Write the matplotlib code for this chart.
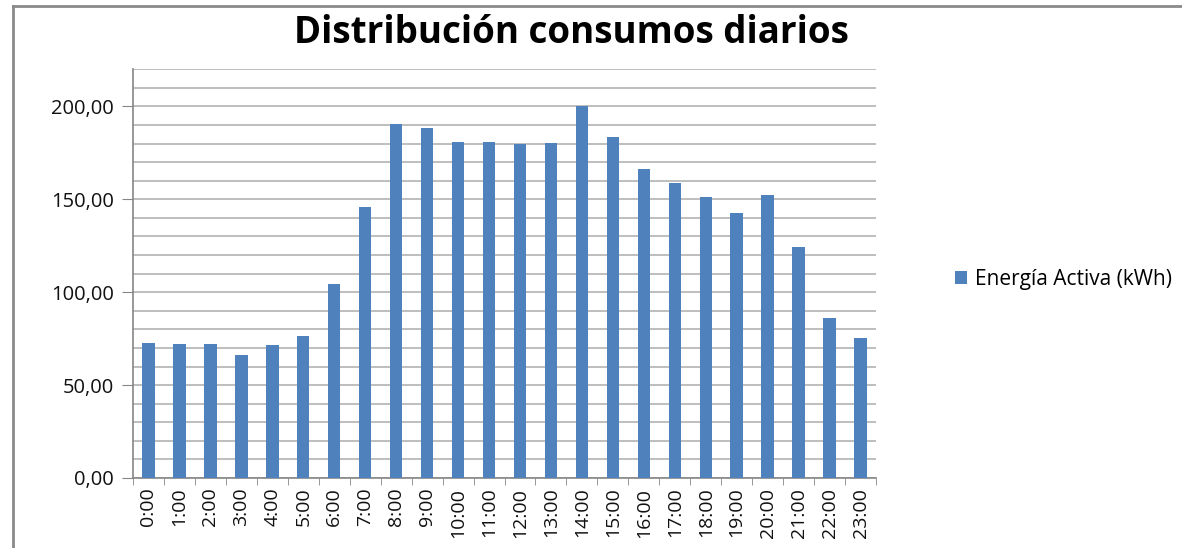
import matplotlib
matplotlib.use("Agg")
import matplotlib.pyplot as plt
from matplotlib.lines import Line2D
from matplotlib.ticker import MultipleLocator, FuncFormatter
import numpy as np

hours = [f"{h}:00" for h in range(24)]
energia = [72.6, 72.0, 72.0, 66.1, 71.5, 76.3, 104.3, 145.7, 190.3, 188.2,
           180.6, 180.6, 179.6, 180.1, 200.5, 183.3, 166.1, 158.6, 151.1, 142.5,
           152.2, 124.2, 86.0, 75.3]
series_name = "Energía Activa (kWh)"
title = "Distribución consumos diarios"

W, H = 1182, 548
fig = plt.figure(figsize=(W / 100, H / 100), dpi=100)
fig.patch.set_facecolor("white")

ax = fig.add_axes([133 / W, 1 - 478 / H, (876 - 133) / W, (478 - 69.3) / H])
x = np.arange(len(hours))
bars = ax.bar(x, energia, width=0.4, color="#4F81BD", zorder=3, label=series_name)

ax.set_xlim(-0.5, len(hours) - 0.5)
ax.set_ylim(0, 220)
ax.yaxis.set_major_locator(MultipleLocator(50))
ax.yaxis.set_minor_locator(MultipleLocator(10))
ax.yaxis.set_major_formatter(FuncFormatter(lambda v, p: f"{v:.2f}".replace(".", ",")))
ax.grid(axis="y", which="both", color="#B3B3B3", linewidth=1.2, zorder=0)
ax.set_axisbelow(True)

for s in ["top", "right"]:
    ax.spines[s].set_visible(False)
for s in ["left", "bottom"]:
    ax.spines[s].set_color("#868686")
    ax.spines[s].set_linewidth(1.2)

ax.tick_params(axis="y", which="major", length=8, color="#868686", labelsize=14.5,
               labelcolor="#111111", pad=6)
ax.tick_params(axis="y", which="minor", length=0)
ax.set_xticks(x)
ax.set_xticklabels(hours, rotation=90, fontsize=14, color="#111111")
ax.tick_params(axis="x", which="major", length=0, pad=7)
ax.set_xticks(np.arange(-0.5, len(hours), 1), minor=True)
ax.tick_params(axis="x", which="minor", length=5, color="#868686")
for lab in ax.get_xticklabels() + ax.get_yticklabels():
    lab.set_family("Open Sans")

fig.text(571 / W, 1 - 33 / H, title, ha="center", va="center", fontsize=26.5,
         fontweight="bold", family="Open Sans")

leg = fig.legend(handles=[bars], labels=[series_name], loc="center left",
                 bbox_to_anchor=(936 / W, 1 - 279 / H), frameon=False,
                 prop={"family": "Open Sans", "size": 15}, handlelength=0.6,
                 handleheight=0.6, handletextpad=0.35)

fig.add_artist(Line2D([13 / W, 1], [1 - 6 / H, 1 - 6 / H], color="#8A8A8A", linewidth=2))
fig.add_artist(Line2D([13 / W, 13 / W], [0, 1 - 6 / H], color="#8A8A8A", linewidth=2))

fig.savefig("out.png", dpi=100)
